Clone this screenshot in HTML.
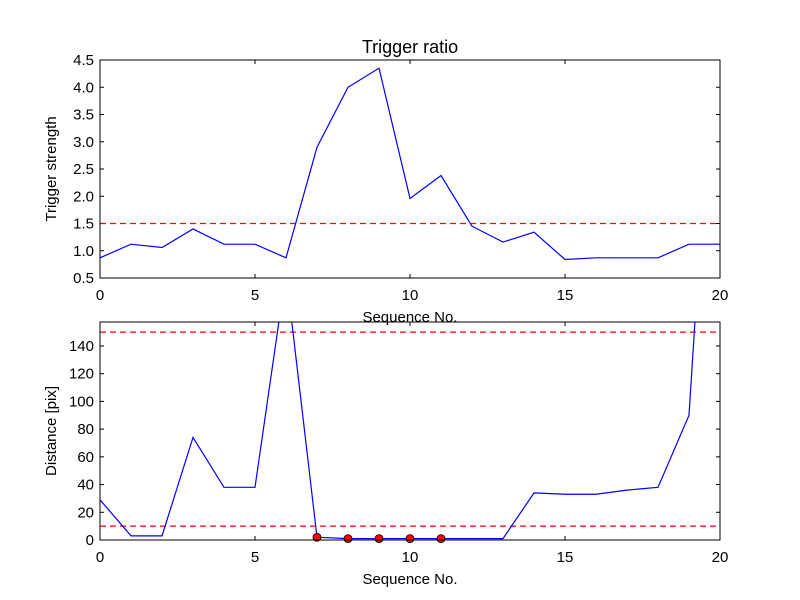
<!DOCTYPE html>
<html><head><meta charset="utf-8"><style>body{margin:0;background:#fff}svg{display:block;font-family:"Liberation Sans",sans-serif}</style></head>
<body>
<svg id="chart" width="800" height="600" viewBox="0 0 800 600">
<defs>
<clipPath id="c1"><rect x="100" y="60" width="620" height="218"/></clipPath>
<clipPath id="c2"><rect x="100" y="322" width="620" height="218"/></clipPath>
</defs>
<rect width="800" height="600" fill="#fff"/>
<g id="g"></g>
</svg>
<script>
const seq = [0,1,2,3,4,5,6,7,8,9,10,11,12,13,14,15,16,17,18,19,20];
const ratio = [0.87,1.12,1.06,1.4,1.12,1.12,0.87,2.9,4.0,4.35,1.96,2.38,1.45,1.16,1.34,0.84,0.87,0.87,0.87,1.12,1.12];
const distance = [29,3,3,74,38,38,193,2,1,1,1,1,1,1,34,33,33,36,38,90,442];
const triggerIdx = [7,8,9,10,11];
const ratioThreshold = [1.5];
const distThresholds = [10,150];
const xTicks = [0,5,10,15,20];
const yTicks1 = [0.5,1.0,1.5,2.0,2.5,3.0,3.5,4.0,4.5];
const yTicks2 = [0,20,40,60,80,100,120,140];

const NS="http://www.w3.org/2000/svg";
const g=document.getElementById('g');
function el(t,a,p){const e=document.createElementNS(NS,t);for(const k in a)e.setAttribute(k,a[k]);(p||g).appendChild(e);return e;}
const xs=v=>100+v/20*620;
function panel(top,ymin,ymax,ticks,fmt,clip,ylabel,name){
  const ys=v=>top+218-(v-ymin)/(ymax-ymin)*218;
  const grp=el('g',{});
  
  
  ticks.forEach(t=>{const y=ys(t);
    el('line',{x1:100,x2:104,y1:y,y2:y,stroke:'#000'},grp);
    el('line',{x1:716,x2:720,y1:y,y2:y,stroke:'#000'},grp);
    const tx=el('text',{x:94,y:y+5,'text-anchor':'end','font-size':15},grp);tx.textContent=fmt(t);
    
    
  });
  xTicks.forEach(t=>{const x=xs(t);
    el('line',{x1:x,x2:x,y1:top+218,y2:top+214,stroke:'#000'},grp);
    el('line',{x1:x,x2:x,y1:top,y2:top+4,stroke:'#000'},grp);
    const tx=el('text',{x:x,y:top+240,'text-anchor':'middle','font-size':15},grp);tx.textContent=t;
    
    
  });
  const yl=el('text',{transform:`translate(56,${top+109}) rotate(-90)`,'text-anchor':'middle','font-size':15},grp);yl.textContent=ylabel;
  
  
  const xl=el('text',{x:410,y:top+262,'text-anchor':'middle','font-size':15},grp);xl.textContent='Sequence No.';
  
  
  return {ys,grp,clip};
}
const p1=panel(60,0.5,4.5,yTicks1,v=>v.toFixed(1),'c1','Trigger strength','ratio-panel');
const p2=panel(322,0,157.3,yTicks2,v=>String(v),'c2','Distance [pix]','distance-panel');
function series(p,vals,name){
  const d=vals.map((v,i)=>(i?'L':'M')+xs(seq[i])+','+p.ys(v)).join(' ');
  const l=el('path',{d:d,fill:'none',stroke:'#0000ff','stroke-width':1.2,'clip-path':`url(#${p.clip})`},p.grp);
  
  
}
function hline(p,v){
  const l=el('line',{x1:100,x2:720,y1:p.ys(v),y2:p.ys(v),stroke:'#ff0000','stroke-dasharray':'6,4','stroke-width':1.2},p.grp);
  
  
}
ratioThreshold.forEach(v=>hline(p1,v));
distThresholds.forEach(v=>hline(p2,v));
series(p1,ratio,'ratio-line');
series(p2,distance,'distance-line');
triggerIdx.forEach(i=>{
  const c=el('circle',{cx:xs(seq[i]),cy:p2.ys(distance[i]),r:4,fill:'#ff0000',stroke:'#000','stroke-width':0.8},p2.grp);
  
  
});
[60,322].forEach(t=>{
  const r=el('rect',{x:100,y:t,width:620,height:218,fill:'none',stroke:'#000'});
  
  
});
const title=el('text',{x:410,y:53,'text-anchor':'middle','font-size':18});
title.textContent='Trigger ratio';


</script>
</body></html>
